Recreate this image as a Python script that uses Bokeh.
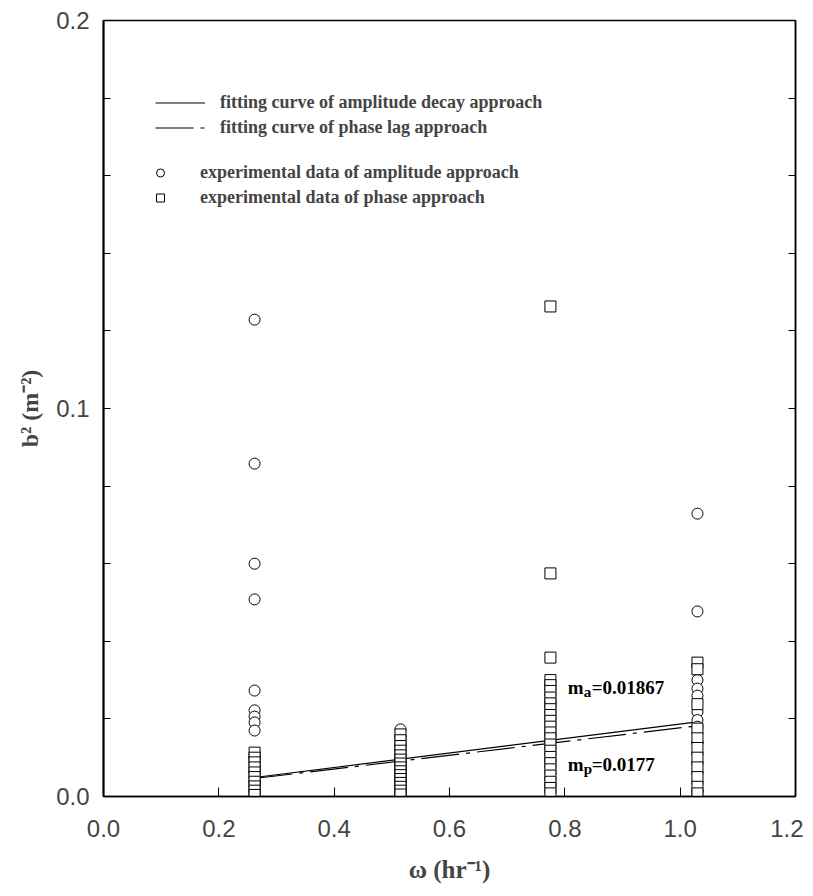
from bokeh.plotting import figure
from bokeh.models import FixedTicker, Range1d, LinearAxis, Legend, LegendItem, Label, PrintfTickFormatter
from bokeh.embed import file_html
from bokeh.resources import INLINE

# ---- data ----
omega = [0.262, 0.515, 0.775, 1.03]

amp_1 = [0.1229, 0.0858, 0.0600, 0.0508, 0.0273, 0.0222, 0.0206, 0.0191, 0.0170,
         0.0100, 0.0065, 0.0035, 0.0010]
amp_2 = [0.0173, 0.0155, 0.0130, 0.0100, 0.0070, 0.0040, 0.0010]
amp_3 = [0.0240, 0.0160, 0.0090, 0.0030]
amp_4 = [0.0729, 0.0477, 0.0300, 0.0278, 0.0260, 0.0218, 0.0197, 0.0180, 0.0140,
         0.0110, 0.0085, 0.0060, 0.0035, 0.0012, 0.0002]

phase_1 = [0.0113, 0.0100, 0.0088, 0.0075, 0.0062, 0.0050, 0.0038, 0.0026, 0.0015, 0.0004]
phase_2 = [0.0160, 0.0145, 0.0130, 0.0118, 0.0106, 0.0095, 0.0085, 0.0075, 0.0065,
           0.0055, 0.0045, 0.0035, 0.0025, 0.0015, 0.0005]
phase_3 = [0.1263, 0.0575, 0.0358, 0.0300, 0.0287, 0.0272, 0.0255, 0.0240, 0.0225,
           0.0210, 0.0195, 0.0180, 0.0165, 0.0150, 0.0134, 0.0118, 0.0102, 0.0086,
           0.0070, 0.0054, 0.0038, 0.0022, 0.0008]
phase_4 = [0.0345, 0.0328, 0.0238, 0.0175, 0.0150, 0.0125, 0.0100, 0.0075, 0.0050,
           0.0025, 0.0008]

m_a = 0.01867
m_p = 0.0177

x_ticks = [0.0, 0.2, 0.4, 0.6, 0.8, 1.0, 1.2]
y_ticks = [0.0, 0.1, 0.2]
y_minor = [0.02, 0.04, 0.06, 0.08, 0.12, 0.14, 0.16, 0.18]
y_all = [0.02, 0.04, 0.06, 0.08, 0.10, 0.12, 0.14, 0.16, 0.18]

amp_groups = [amp_1, amp_2, amp_3, amp_4]
phase_groups = [phase_1, phase_2, phase_3, phase_4]

amp_x, amp_y = [], []
for w, vals in zip(omega, amp_groups):
    amp_x += [w] * len(vals)
    amp_y += vals
ph_x, ph_y = [], []
for w, vals in zip(omega, phase_groups):
    ph_x += [w] * len(vals)
    ph_y += vals

fit_x = [omega[0], omega[-1]]
fit_a = [m_a * w for w in fit_x]
fit_p = [m_p * w for w in fit_x]

# ---- figure ----
p = figure(frame_width=692, frame_height=776,
           x_range=Range1d(0, 1.2), y_range=Range1d(0, 0.2),
           output_backend="svg", toolbar_location=None,
           min_border_left=103, min_border_right=8,
           min_border_top=20, min_border_bottom=92)
p.grid.visible = False
p.outline_line_color = "black"
p.outline_line_width = 1.5
p.background_fill_color = "white"
p.border_fill_color = "white"

tick_font = "Liberation Sans"
serif = "Liberation Serif"

xa = p.xaxis[0]
xa.ticker = FixedTicker(ticks=x_ticks)
xa.formatter = PrintfTickFormatter(format="%.1f")
xa.major_tick_in = 9
xa.major_tick_out = 0
xa.minor_tick_line_color = None
xa.axis_line_width = 1.5
xa.major_label_text_font = tick_font
xa.major_label_text_font_size = "24px"
xa.major_label_standoff = 23
xa.axis_label = "ω (hr⁻¹)"
xa.axis_label_text_font = serif
xa.axis_label_text_font_style = "bold"
xa.axis_label_text_font_size = "25px"
xa.axis_label_standoff = 16

ya = p.yaxis[0]
ya.ticker = FixedTicker(ticks=y_ticks, minor_ticks=y_minor)
ya.formatter = PrintfTickFormatter(format="%.1f")
ya.major_tick_in = 7
ya.major_tick_out = 0
ya.minor_tick_in = 7
ya.minor_tick_out = 0
ya.axis_line_width = 2
ya.major_label_text_font = tick_font
ya.major_label_text_font_size = "24px"
ya.major_label_standoff = 14
ya.axis_label = "b² (m⁻²)"
ya.axis_label_text_font = serif
ya.axis_label_text_font_style = "bold"
ya.axis_label_text_font_size = "24px"
ya.axis_label_standoff = 10

ra = LinearAxis(ticker=FixedTicker(ticks=[], minor_ticks=y_all))
ra.minor_tick_in = 7
ra.minor_tick_out = 0
ra.major_tick_in = 0
ra.major_tick_out = 0
ra.axis_line_width = 1.5
p.add_layout(ra, "right")

# ---- glyphs ----
r_fa = p.line(fit_x, fit_a, line_color="black", line_width=1.2)
r_fp = p.line(fit_x, fit_p, line_color="black", line_width=1.2, line_dash="38 7 4 7")
r_c = p.scatter(amp_x, amp_y, marker="circle", size=11, line_color="black",
                fill_color="white", line_width=1)
r_s = p.scatter(ph_x, ph_y, marker="square", size=11, line_color="black",
                fill_color="white", line_width=1)

leg1 = Legend(items=[LegendItem(label="fitting curve of amplitude decay approach", renderers=[r_fa]),
                     LegendItem(label="fitting curve of phase lag approach", renderers=[r_fp])],
              location=(52, 656), glyph_width=50, glyph_height=25, label_height=25,
              label_standoff=15, spacing=0, padding=0, margin=0,
              border_line_alpha=0, background_fill_alpha=0,
              label_text_font=serif, label_text_font_style="bold",
              label_text_font_size="18px")
leg2 = Legend(items=[LegendItem(label="experimental data of amplitude approach", renderers=[r_c]),
                     LegendItem(label="experimental data of phase approach", renderers=[r_s])],
              location=(47, 586), glyph_width=20, glyph_height=25, label_height=25,
              label_standoff=30, spacing=0, padding=0, margin=0,
              border_line_alpha=0, background_fill_alpha=0,
              label_text_font=serif, label_text_font_style="bold",
              label_text_font_size="18px")
p.add_layout(leg1, "center")
p.add_layout(leg2, "center")

# ---- slope annotations ----
def slope_label(x, y, sub, rest):
    common = dict(text_font=serif, text_font_style="bold", text_color="black",
                  text_baseline="middle")
    p.add_layout(Label(x=x, y=y, text="m", text_font_size="19px", **common))
    p.add_layout(Label(x=x, y=y, x_offset=16, y_offset=-4, text=sub,
                       text_font_size="15px", **common))
    p.add_layout(Label(x=x, y=y, x_offset=24, text=rest, text_font_size="19px", **common))

slope_label(0.805, 0.0280, "a", "=0.01867")
slope_label(0.805, 0.0082, "p", "=0.0177")

open("out.html", "w").write(file_html(p, INLINE))
